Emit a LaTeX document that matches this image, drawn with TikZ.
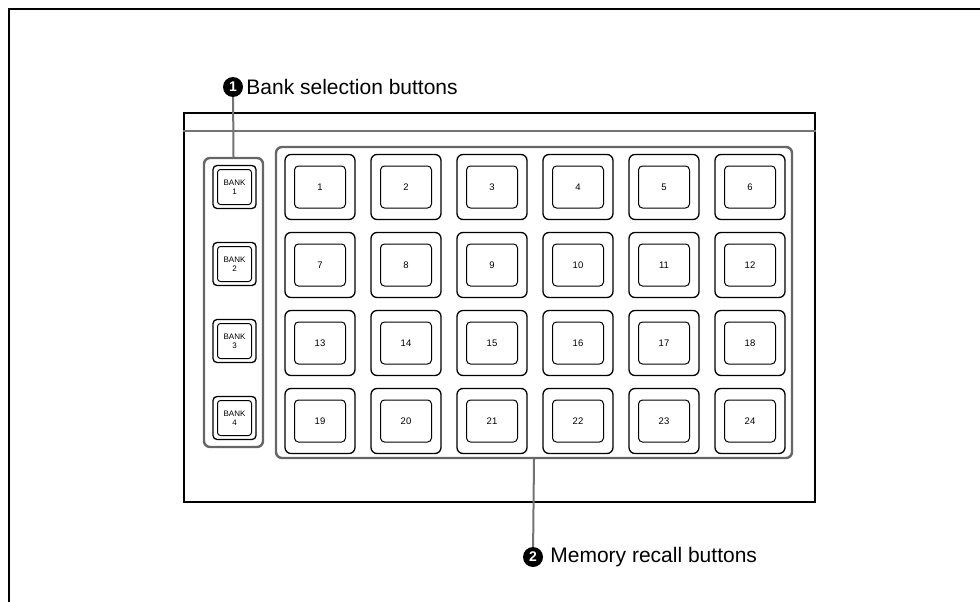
\documentclass[tikz,border=0pt]{standalone}
\usepackage{fontspec}
\setmainfont{Liberation Sans}
\usetikzlibrary{positioning}

\begin{document}
\begin{tikzpicture}[x=1pt, y=-1pt,
    frame/.style={line width=2.2pt, black},
    panel/.style={draw, line width=2.2pt, minimum width=631pt, minimum height=389pt, inner sep=0pt},
    sep/.style={draw=black!55, line width=1.2pt},
    grp/.style={draw=black!60, line width=2.4pt, rounded corners=6pt, inner sep=0pt},
    mout/.style={draw, line width=1.3pt, rounded corners=6pt, minimum width=70pt, minimum height=65pt, inner sep=0pt},
    min/.style={draw, line width=1pt, rounded corners=4pt, minimum width=51pt, minimum height=42pt, inner sep=0pt, font=\fontsize{9.5}{11}\selectfont},
    bout/.style={draw, line width=1.3pt, rounded corners=4pt, minimum size=43pt, inner sep=0pt},
    bin/.style={draw, line width=1pt, rounded corners=3pt, minimum width=34pt, minimum height=35pt, inner sep=0pt, align=center, font=\fontsize{8}{9}\selectfont},
    num/.style={circle, fill=black, text=white, inner sep=0pt, minimum size=20pt, font=\fontsize{14}{14}\selectfont\bfseries},
    lbl/.style={inner sep=1pt, font=\fontsize{21}{24}\selectfont},
    lead/.style={draw=black!55, line width=2pt}
]
\useasboundingbox (0,0) rectangle (980,602);
\draw[frame] (980,9) -- (9,9) -- (9,602);

\node[panel] (panel) at (499.5,307.5) {};
\draw[sep] ([yshift=-19pt]panel.north west) -- ([yshift=-19pt]panel.north east);

\node[grp, minimum width=59pt, minimum height=289pt] (bankgrp) at (233.5,302.5) {};
\node[grp, minimum width=516pt, minimum height=311pt] (memgrp) at (534,302.5) {};

\foreach \b/\y in {1/187, 2/264, 3/341, 4/418} {
  \node[bout] (bo\b) at (234.5,\y) {};
  \node[bin] (bi\b) at (bo\b.center) {BANK\\\b};
}

\foreach \r in {0,...,3} {
  \foreach \c in {0,...,5} {
    \pgfmathtruncatemacro{\k}{6*\r+\c+1}
    \node[mout] (mo\k) at (320+86*\c, 187+78*\r) {};
    \node[min] (mi\k) at (mo\k.center) {\k};
  }
}

\node[num] (c1) at (233,87) {1};
\node[lbl, right=2pt of c1] (t1) {Bank selection buttons};
\node[num] (c2) at (533,557) {2};
\node[lbl, right=6pt of c2] (t2) {Memory recall buttons};

\draw[lead] (c1) -- (bankgrp.north);
\draw[lead] (memgrp.south) -- (c2);
\end{tikzpicture}
\end{document}
